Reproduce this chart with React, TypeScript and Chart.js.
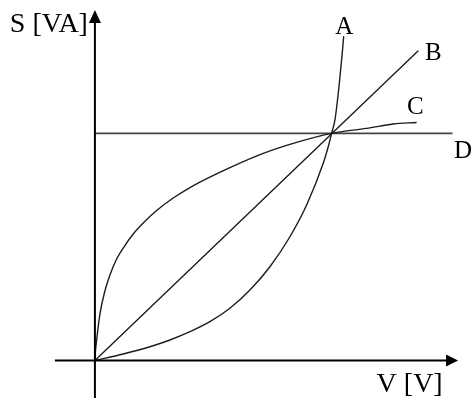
import React, { useEffect, useRef } from "react";
import { Chart, registerables } from "chart.js";

Chart.register(...registerables);

// Curve A (convex, rising steeply after the common point)
const curveA_x = [0, 0.1196, 0.2324, 0.3169, 0.4014, 0.4859, 0.5703, 0.6548, 0.7393, 0.8238, 0.8944, 0.9645, 0.9856, 1, 1.014, 1.028, 1.038, 1.046, 1.051];
const curveA_y = [0, 0.0286, 0.0607, 0.0902, 0.1268, 0.1708, 0.2298, 0.3103, 0.4129, 0.5449, 0.6844, 0.868, 0.941, 1, 1.059, 1.176, 1.279, 1.367, 1.428];
// Curve B (straight line)
const curveB_x = [0, 1.366];
const curveB_y = [0, 1.364];
// Curve C (concave, saturating)
const curveC_x = [0, 0.002, 0.0072, 0.0211, 0.0422, 0.0634, 0.0917, 0.1196, 0.1618, 0.2041, 0.2607, 0.3308, 0.4014, 0.4859, 0.5703, 0.711, 0.8521, 1, 1.148, 1.26, 1.359];
const curveC_y = [0, 0.037, 0.0902, 0.2047, 0.306, 0.3763, 0.4467, 0.4952, 0.5568, 0.6052, 0.6602, 0.7152, 0.7614, 0.8077, 0.8495, 0.912, 0.9604, 1, 1.022, 1.041, 1.048];
// Curve D (constant)
const curveD_x = [0, 1.511];
const curveD_y = [1, 1];

const curveNames = ["A", "B", "C", "D"];
// label anchors in data units
const labelX = [1.053, 1.394, 1.318, 1.517];
const labelY = [1.436, 1.322, 1.087, 0.893];
const yAxisTitle = "S [VA]";
const xAxisTitle = "V [V]";

const X_MIN = -0.401;
const X_MAX = 1.593;
const Y_MIN = -0.165;
const Y_MAX = 1.587;
const X_AXIS_FROM = -0.169;
const X_AXIS_TO = 1.534;
const Y_AXIS_FROM = -0.165;
const Y_AXIS_TO = 1.543;

const toPts = (xs: number[], ys: number[]) => xs.map((x, i) => ({ x, y: ys[i] }));

export default function App() {
  const ref = useRef<HTMLCanvasElement | null>(null);
  useEffect(() => {
    if (!ref.current) return;
    const axesPlugin = {
      id: "axesArrows",
      afterDatasetsDraw(chart: any) {
        const ctx = chart.ctx;
        const xs = chart.scales.x;
        const ys = chart.scales.y;
        const ox = xs.getPixelForValue(0);
        const oy = ys.getPixelForValue(0);
        ctx.save();
        ctx.strokeStyle = "#000";
        ctx.fillStyle = "#000";
        ctx.lineWidth = 2;
        // x axis
        const xa = xs.getPixelForValue(X_AXIS_FROM);
        const xb = xs.getPixelForValue(X_AXIS_TO);
        ctx.beginPath();
        ctx.moveTo(xa, oy);
        ctx.lineTo(xb - 8, oy);
        ctx.stroke();
        ctx.beginPath();
        ctx.moveTo(xb, oy);
        ctx.lineTo(xb - 12, oy - 6);
        ctx.lineTo(xb - 12, oy + 6);
        ctx.closePath();
        ctx.fill();
        // y axis
        const ya = ys.getPixelForValue(Y_AXIS_FROM);
        const yb = ys.getPixelForValue(Y_AXIS_TO);
        ctx.beginPath();
        ctx.moveTo(ox, ya);
        ctx.lineTo(ox, yb + 8);
        ctx.stroke();
        ctx.beginPath();
        ctx.moveTo(ox, yb);
        ctx.lineTo(ox - 6, yb + 13);
        ctx.lineTo(ox + 6, yb + 13);
        ctx.closePath();
        ctx.fill();
        // curve labels
        ctx.font = "25px 'Liberation Serif', 'Times New Roman', serif";
        ctx.textBaseline = "alphabetic";
        curveNames.forEach((n, i) => {
          ctx.textAlign = i === 0 ? "center" : "left";
          ctx.fillText(n, xs.getPixelForValue(labelX[i]), ys.getPixelForValue(labelY[i]));
        });
        // axis titles
        ctx.font = "28px 'Liberation Serif', 'Times New Roman', serif";
        ctx.textAlign = "right";
        ctx.fillText(yAxisTitle, ox - 7, ys.getPixelForValue(1.448));
        ctx.textAlign = "left";
        ctx.fillText(xAxisTitle, xs.getPixelForValue(1.19), ys.getPixelForValue(-0.14));
        ctx.restore();
      },
    };
    const lineDs = (label: string, data: any[], color: string, width: number) => ({
      label,
      data,
      showLine: true,
      borderColor: color,
      borderWidth: width,
      pointRadius: 0,
      cubicInterpolationMode: "monotone" as const,
      fill: false,
    });
    const chart = new Chart(ref.current, {
      type: "scatter",
      data: {
        datasets: [
          lineDs("A", toPts(curveA_x, curveA_y), "#1c1c1c", 1.4),
          lineDs("B", toPts(curveB_x, curveB_y), "#1c1c1c", 1.4),
          lineDs("C", toPts(curveC_x, curveC_y), "#1c1c1c", 1.4),
          lineDs("D", toPts(curveD_x, curveD_y), "#444", 1.6),
        ],
      },
      options: {
        animation: false,
        responsive: true,
        maintainAspectRatio: false,
        layout: { padding: 0 },
        plugins: { legend: { display: false }, tooltip: { enabled: false } },
        scales: {
          x: { type: "linear", min: X_MIN, max: X_MAX, display: false },
          y: { type: "linear", min: Y_MIN, max: Y_MAX, display: false },
        },
      },
      plugins: [axesPlugin],
    });
    return () => chart.destroy();
  }, []);
  return (
    <div style={{ position: "absolute", left: 0, top: 0, width: 472, height: 398, background: "#fff" }}>
      <canvas ref={ref} />
    </div>
  );
}
